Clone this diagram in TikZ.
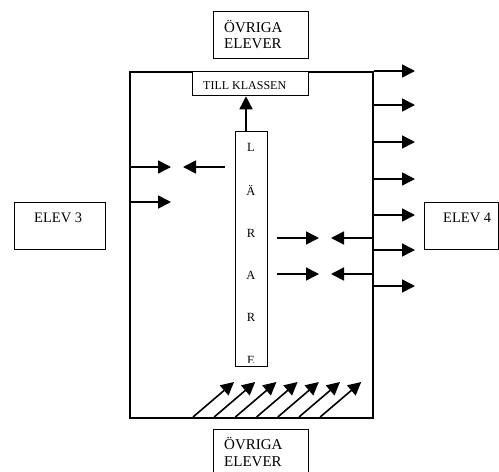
\documentclass[tikz,border=0pt]{standalone}
\usepackage{fontspec}
\setmainfont{Liberation Serif}
\usetikzlibrary{arrows.meta}
\begin{document}
\begin{tikzpicture}[x=1pt,y=-1pt,
  boxline/.style={draw, line width=1.3pt, inner sep=0, anchor=north west},
  arr/.style={line width=1.6pt, -{Triangle[length=13pt,width=13pt]}},
  bigtxt/.style={font=\fontsize{15}{16}\selectfont, anchor=base west, inner sep=0},
  midtxt/.style={font=\fontsize{14.5}{16}\selectfont, anchor=base west, inner sep=0},
  smalltxt/.style={font=\fontsize{12}{14}\selectfont, anchor=base west, inner sep=0},
  lettxt/.style={font=\fontsize{12.5}{14}\selectfont, anchor=base, inner sep=0}]
\useasboundingbox (0,0) rectangle (499,472);
\clip (0,0) rectangle (499,472);
% main room
\node[draw, line width=1.7pt, inner sep=0, anchor=north west, minimum width=243pt, minimum height=346pt] (room) at (129,71) {};
% boxes
\node[boxline, minimum width=95pt, minimum height=47pt] (topbox) at (213,11) {};
\node[bigtxt] (toptxt1) at (224,32) {ÖVRIGA};
\node[bigtxt] (toptxt2) at (224,48) {ELEVER};
\node[boxline, minimum width=95pt, minimum height=60pt] (botbox) at (213,429) {};
\node[bigtxt] (bottxt1) at (224,449) {ÖVRIGA};
\node[bigtxt] (bottxt2) at (224,466) {ELEVER};
\node[boxline, fill=white, minimum width=116pt, minimum height=24pt] (till) at (192,71) {};
\node[smalltxt] (tilltxt) at (203,89) {TILL KLASSEN};
\node[boxline, minimum width=91pt, minimum height=47pt] (elev3) at (14,202) {};
\node[midtxt] (elev3txt) at (34,222) {ELEV 3};
\node[boxline, minimum width=74pt, minimum height=47pt] (elev4) at (424,202) {};
\node[midtxt] (elev4txt) at (443,222) {ELEV 4};
\node[boxline, minimum width=32pt, minimum height=235pt] (lar) at (235,131) {};
\node[lettxt] (l1) at (251,151) {L};
\node[lettxt] (l2) at (251,195) {Ä};
\node[lettxt] (l3) at (251,237) {R};
\node[lettxt] (l4) at (251,279) {A};
\node[lettxt] (l5) at (251,321) {R};
\begin{scope}
\clip (236,132) rectangle (266,362);
\node[lettxt] (l6) at (251,364) {E};
\end{scope}
% up arrow to TILL KLASSEN
\coordinate (ux) at (246,0);
\draw[arr] (lar.north -| ux) -- (till.south -| ux);
% top line arrow
\coordinate (t1) at (415,71);
\draw[arr] (room.north east) -- (t1);
% right wall arrows
\foreach \y/\n in {105/a,142/b,179/c,215/d,250/e,286/f}{
  \coordinate (rs\n) at (372,\y);
  \coordinate (re\n) at (415,\y);
  \draw[arr] (rs\n) -- (re\n);
}
% left wall arrows
\coordinate (ls1) at (129,167); \coordinate (le1) at (171,167);
\coordinate (ls2) at (129,202); \coordinate (le2) at (171,202);
\draw[arr] (ls1) -- (le1);
\draw[arr] (ls2) -- (le2);
\coordinate (ms1) at (225,167); \coordinate (me1) at (183,167);
\draw[arr] (ms1) -- (me1);
% middle double arrows
\foreach \y/\n in {238/a,274/b}{
  \coordinate (ds\n) at (277,\y); \coordinate (de\n) at (319,\y);
  \coordinate (ws\n) at (372,\y); \coordinate (we\n) at (331,\y);
  \draw[arr] (ds\n) -- (de\n);
  \draw[arr] (ws\n) -- (we\n);
}
% diagonal arrows from bottom
\foreach \i in {0,...,6}{
  \coordinate (bs\i) at (193+21.2*\i,417);
  \coordinate (be\i) at (234+21.2*\i,382);
  \draw[arr] (bs\i) -- (be\i);
}
\end{tikzpicture}
\end{document}
